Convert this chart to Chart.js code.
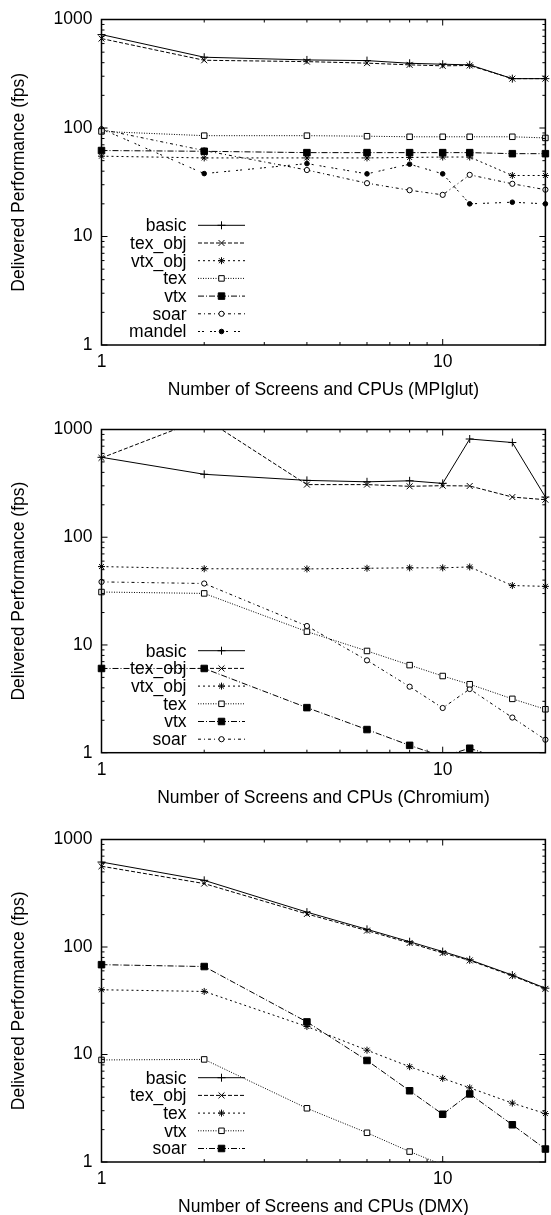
<!DOCTYPE html>
<html>
<head>
<meta charset="utf-8">
<script src="https://cdn.jsdelivr.net/npm/chart.js@4.4.1/dist/chart.umd.min.js"></script>
<style>
  html, body { margin: 0; padding: 0; background: #fff; overflow: hidden; }
  #wrap { position: relative; width: 551px; height: 1215px; overflow: hidden; }
  canvas { position: absolute; left: 0; }
</style>
</head>
<body>
<div id="wrap">
  <canvas id="c1" width="551" height="410" style="top:0px"></canvas>
  <canvas id="c2" width="551" height="410" style="top:410px"></canvas>
  <canvas id="c3" width="551" height="400" style="top:820px"></canvas>
</div>
<script>
// x positions (screens / CPUs)
const screens = [1, 2, 4, 6, 8, 10, 12, 16, 20];

// MPIglut
const mpiBasic  = [726, 449, 424, 418, 395, 387, 382, 285, 285];
const mpiTexObj = [667, 421, 409, 396, 382, 374, 377, 285, 285];
const mpiVtxObj = [55, 53, 53, 53, 53.5, 54, 54, 36.5, 36.5];
const mpiTex    = [93, 85, 85, 84, 83, 83, 83, 83, 81];
const mpiVtx    = [62, 61, 59.3, 59.3, 59.3, 59.3, 59.3, 58, 58];
const mpiSoar   = [97, 62, 41, 31, 26.7, 24.2, 37, 30.6, 27];
const mpiMandel = [98, 38, 47, 37.8, 46.4, 37.8, 20, 20.7, 20];

// Chromium
const chrBasic  = [552, 384, 337, 327, 334, 316, 816, 757, 236];
const chrTexObj = [545, 1270, 308, 308, 297, 301, 299, 236, 223];
const chrVtxObj = [53.4, 51, 50.8, 51.5, 52, 52, 53, 35.6, 35];
const chrTex    = [31, 30.1, 13.3, 8.8, 6.5, 5.15, 4.32, 3.16, 2.53];
const chrVtx    = [6.05, 6.05, 2.62, 1.64, 1.17, 0.92, 1.1, 0.81, 0.6];
const chrSoar   = [38.5, 37.2, 15, 7.2, 4.1, 2.6, 3.9, 2.12, 1.32];

// DMX
const dmxBasic  = [617, 417, 211, 146, 112, 90.7, 76, 54.8, 41.4];
const dmxTexObj = [564, 389, 203, 142, 109, 88, 75, 54, 40.8];
const dmxTex    = [40, 38.6, 18.2, 10.97, 7.7, 6.0, 4.9, 3.53, 2.82];
const dmxVtx    = [8.9, 9.0, 3.16, 1.87, 1.25, 0.94, 0.75, 0.55, 0.42];
const dmxSoar   = [68.5, 65.8, 20.1, 8.8, 4.6, 2.78, 4.3, 2.22, 1.32];

const xMajor = [1, 10];
const xMinor = [2, 3, 4, 5, 6, 7, 8, 9, 20];
const yMajor = [1, 10, 100, 1000];

const FONT = { family: '"Liberation Sans", Arial, Helvetica, sans-serif', size: 17.5 };

// gnuplot postscript line types
const lineTypes = [
  { dash: [],           pointStyle: 'cross',    radius: 4,   fill: '#000' },
  { dash: [4, 2],       pointStyle: 'crossRot', radius: 4.2, fill: '#000' },
  { dash: [2, 3],       pointStyle: 'star',     radius: 3.5, fill: '#000' },
  { dash: [1, 1.5],     pointStyle: 'rect',     radius: 3.9, fill: '#fff' },
  { dash: [6, 2, 1, 2], pointStyle: 'rect',     radius: 4.6, fill: '#000' },
  { dash: [3, 3, 1, 3], pointStyle: 'circle',   radius: 2.6, fill: '#fff' },
  { dash: [2, 2, 2, 6], pointStyle: 'circle',   radius: 2.3, fill: '#000' }
];

function makeSet(label, values, lt) {
  const s = lineTypes[lt];
  return {
    label: label,
    data: values.map((v, i) => ({ x: screens[i], y: v })),
    borderColor: '#000',
    borderWidth: 1,
    borderDash: s.dash,
    pointStyle: s.pointStyle,
    pointRadius: s.radius,
    pointBackgroundColor: s.fill,
    pointBorderColor: '#000',
    pointBorderWidth: 1,
    tension: 0,
    clip: { left: 6, right: 6, top: 0, bottom: 0 },
    lt: lt
  };
}

function drawMarker(ctx, lt, x, y) {
  const s = lineTypes[lt];
  ctx.save();
  ctx.setLineDash([]);
  ctx.fillStyle = s.fill;
  ctx.strokeStyle = '#000';
  ctx.lineWidth = 1;
  const r = s.radius;
  ctx.beginPath();
  if (s.pointStyle === 'cross' || s.pointStyle === 'star') {
    ctx.moveTo(x - r, y); ctx.lineTo(x + r, y);
    ctx.moveTo(x, y - r); ctx.lineTo(x, y + r);
  }
  if (s.pointStyle === 'crossRot' || s.pointStyle === 'star') {
    const d = r * Math.SQRT1_2;
    ctx.moveTo(x - d, y - d); ctx.lineTo(x + d, y + d);
    ctx.moveTo(x - d, y + d); ctx.lineTo(x + d, y - d);
  }
  if (s.pointStyle === 'rect') {
    const h = r * Math.SQRT1_2;
    ctx.rect(x - h, y - h, 2 * h, 2 * h);
    ctx.fill();
  }
  if (s.pointStyle === 'circle') {
    ctx.arc(x, y, r, 0, Math.PI * 2);
    ctx.fill();
  }
  ctx.stroke();
  ctx.restore();
}

const frame = {
  id: 'frame',
  afterDatasetsDraw(chart) {
    const { ctx, chartArea: a, scales: { x, y } } = chart;
    ctx.save();
    ctx.strokeStyle = '#000';
    ctx.setLineDash([]);
    ctx.lineWidth = 1;
    ctx.beginPath();
    const xt = (v, len) => {
      const p = x.getPixelForValue(v);
      ctx.moveTo(p, a.bottom); ctx.lineTo(p, a.bottom - len);
      ctx.moveTo(p, a.top); ctx.lineTo(p, a.top + len);
    };
    const yt = (v, len) => {
      const p = y.getPixelForValue(v);
      ctx.moveTo(a.left, p); ctx.lineTo(a.left + len, p);
      ctx.moveTo(a.right, p); ctx.lineTo(a.right - len, p);
    };
    xMajor.forEach(v => xt(v, 6));
    xMinor.forEach(v => xt(v, 3));
    yMajor.forEach(v => yt(v, 6));
    [1, 10, 100].forEach(d => { for (let k = 2; k <= 9; k++) yt(d * k, 3); });
    ctx.stroke();
    ctx.lineWidth = 1.5;
    ctx.strokeRect(a.left, a.top, a.right - a.left, a.bottom - a.top);

    // key, bottom-left, gnuplot style
    const sets = chart.data.datasets;
    ctx.font = FONT.size + 'px ' + FONT.family;
    ctx.fillStyle = '#000';
    ctx.textAlign = 'right';
    ctx.textBaseline = 'middle';
    sets.forEach((ds, i) => {
      const rowY = a.bottom - 13.5 - (sets.length - 1 - i) * 17.7;
      ctx.fillText(ds.label, 186.5, rowY + 1);
      ctx.save();
      ctx.lineWidth = 1;
      ctx.setLineDash(ds.borderDash);
      ctx.beginPath();
      ctx.moveTo(198, rowY); ctx.lineTo(245, rowY);
      ctx.stroke();
      ctx.restore();
      drawMarker(ctx, ds.lt, 221.5, rowY);
    });
    ctx.restore();
  }
};

function makeChart(id, xTitle, datasets, areaTop, areaBottom) {
  const canvas = document.getElementById(id);
  const h = canvas.height;
  new Chart(canvas.getContext('2d'), {
    type: 'line',
    data: { datasets: datasets },
    plugins: [frame],
    options: {
      responsive: false,
      animation: false,
      devicePixelRatio: 1,
      layout: { padding: { top: areaTop, right: 1, left: 0, bottom: 0 } },
      plugins: { legend: { display: false }, tooltip: { enabled: false } },
      scales: {
        x: {
          type: 'logarithmic',
          min: 1,
          max: 20,
          afterFit: s => { s.height = h - areaBottom; },
          afterBuildTicks: s => { s.ticks = xMajor.map(v => ({ value: v })); },
          grid: { display: false, drawTicks: false },
          border: { display: false },
          ticks: {
            color: '#000', font: FONT, padding: 7, autoSkip: false, maxRotation: 0,
            callback: v => String(v)
          },
          title: {
            display: true, text: xTitle, color: '#000', font: FONT,
            padding: { top: 0, bottom: h - 10.5 - (areaBottom + 45.5) }
          }
        },
        y: {
          type: 'logarithmic',
          min: 1,
          max: 1000,
          afterFit: s => { s.width = 101.5; },
          afterBuildTicks: s => { s.ticks = yMajor.map(v => ({ value: v })); },
          grid: { display: false, drawTicks: false },
          border: { display: false },
          ticks: { color: '#000', font: FONT, padding: 9, callback: v => String(v) },
          title: {
            display: true, text: 'Delivered Performance (fps)', color: '#000', font: FONT,
            padding: { top: 9, bottom: 0 }
          }
        }
      }
    }
  });
}

makeChart('c1', 'Number of Screens and CPUs (MPIglut)', [
  makeSet('basic', mpiBasic, 0),
  makeSet('tex_obj', mpiTexObj, 1),
  makeSet('vtx_obj', mpiVtxObj, 2),
  makeSet('tex', mpiTex, 3),
  makeSet('vtx', mpiVtx, 4),
  makeSet('soar', mpiSoar, 5),
  makeSet('mandel', mpiMandel, 6)
], 14, 345);

makeChart('c2', 'Number of Screens and CPUs (Chromium)', [
  makeSet('basic', chrBasic, 0),
  makeSet('tex_obj', chrTexObj, 1),
  makeSet('vtx_obj', chrVtxObj, 2),
  makeSet('tex', chrTex, 3),
  makeSet('vtx', chrVtx, 4),
  makeSet('soar', chrSoar, 5)
], 12.7, 342.7);

makeChart('c3', 'Number of Screens and CPUs (DMX)', [
  makeSet('basic', dmxBasic, 0),
  makeSet('tex_obj', dmxTexObj, 1),
  makeSet('tex', dmxTex, 2),
  makeSet('vtx', dmxVtx, 3),
  makeSet('soar', dmxSoar, 4)
], 12.7, 342);
</script>
</body>
</html>
